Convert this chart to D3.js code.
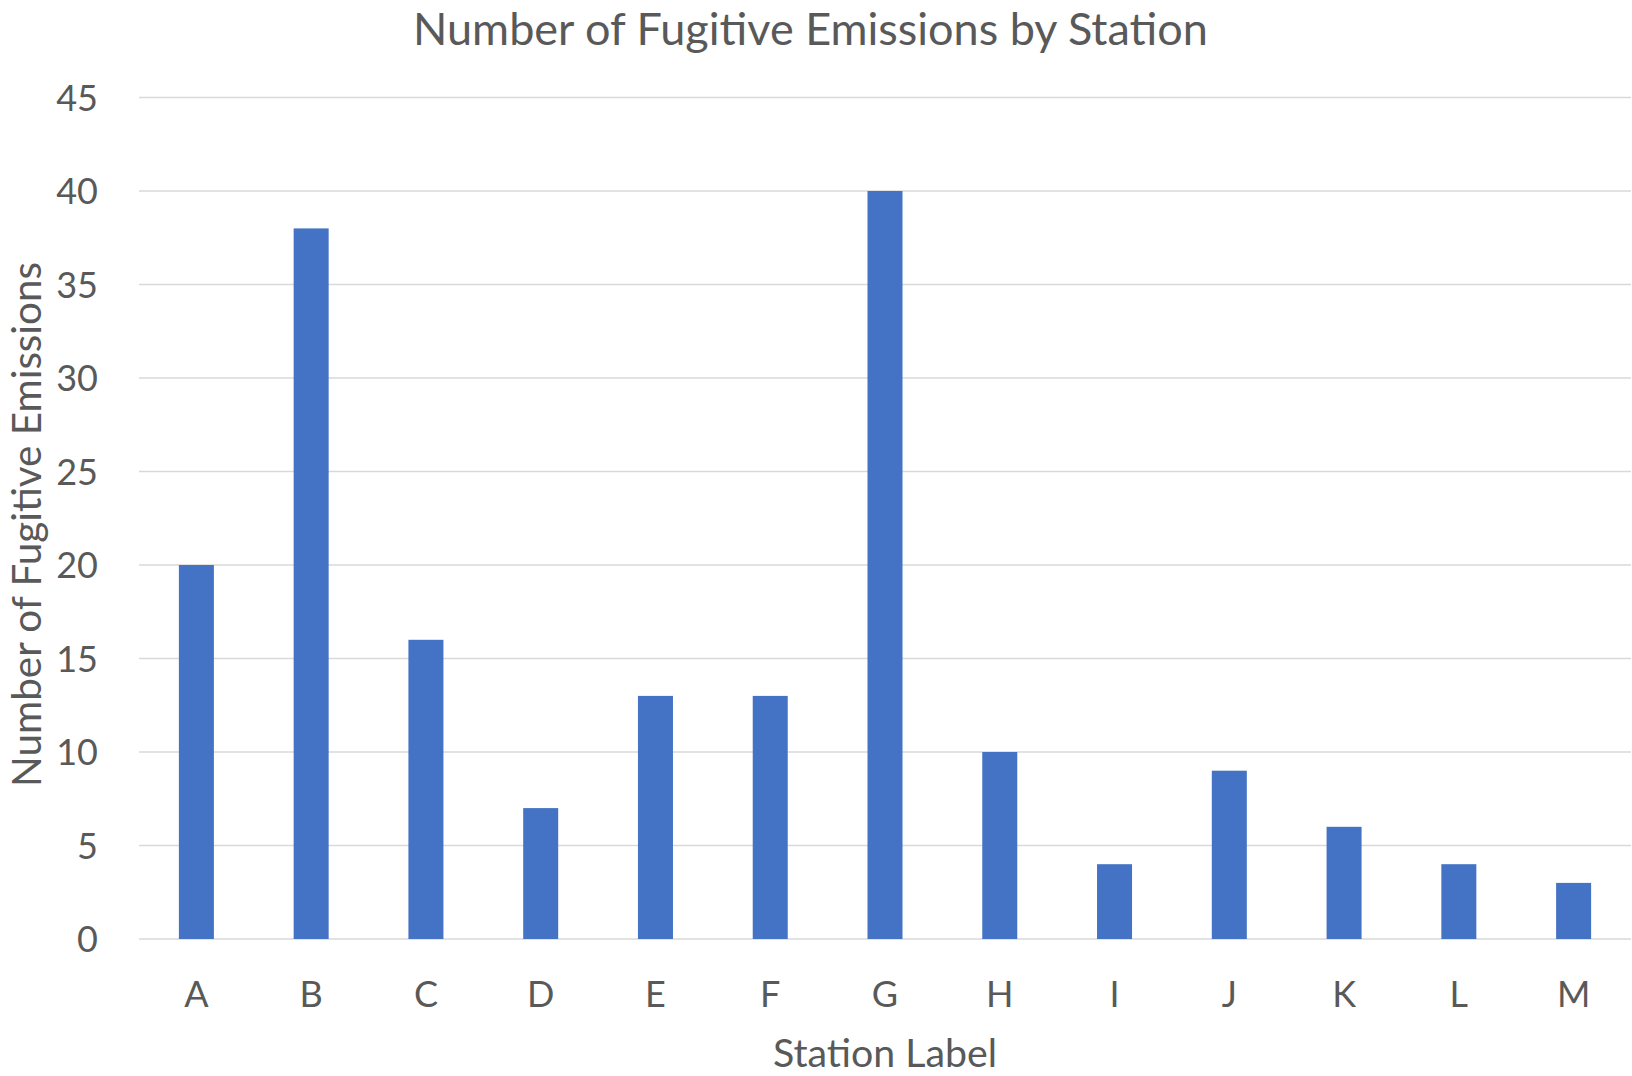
<!DOCTYPE html>
<html>
<head>
<meta charset="utf-8">
<script src="https://cdn.jsdelivr.net/npm/d3@7"></script>
<style>
  html, body { margin: 0; padding: 0; background: #fff; }
  svg { display: block; }
  text { font-family: Lato, "Open Sans", sans-serif; fill: #595959; }
</style>
</head>
<body>
<svg id="chart" width="1632" height="1076"></svg>
<script>
const categories = ["A","B","C","D","E","F","G","H","I","J","K","L","M"];
const values = [20, 38, 16, 7, 13, 13, 40, 10, 4, 9, 6, 4, 3];
const yTicks = [0, 5, 10, 15, 20, 25, 30, 35, 40, 45];
const titleText = "Number of Fugitive Emissions by Station";
const xTitleText = "Station Label";
const yTitleText = "Number of Fugitive Emissions";

const W = 1632, H = 1076;
const plot = { left: 139, right: 1631, top: 97.5, bottom: 939 };

const svg = d3.select("#chart");

const x = d3.scaleBand()
  .domain(categories)
  .range([plot.left, plot.right])
  .paddingInner(0.695)
  .paddingOuter(0.3475);

const y = d3.scaleLinear()
  .domain([0, 45])
  .range([plot.bottom, plot.top]);

// gridlines
svg.append("g")
  .selectAll("line")
  .data(yTicks)
  .join("line")
  .attr("x1", plot.left)
  .attr("x2", plot.right)
  .attr("y1", d => y(d))
  .attr("y2", d => y(d))
  .attr("stroke", "#D9D9D9")
  .attr("stroke-width", 1.5);

// bars
svg.append("g")
  .selectAll("rect")
  .data(categories.map((c, i) => ({ c, v: values[i] })))
  .join("rect")
  .attr("x", d => x(d.c))
  .attr("width", x.bandwidth())
  .attr("y", d => y(d.v))
  .attr("height", d => y(0) - y(d.v))
  .attr("fill", "#4472C4");

// y tick labels
svg.append("g")
  .selectAll("text")
  .data(yTicks)
  .join("text")
  .attr("x", 98)
  .attr("y", d => y(d) + 13)
  .attr("text-anchor", "end")
  .attr("font-size", 36)
  .text(d => d);

// x tick labels
svg.append("g")
  .selectAll("text")
  .data(categories)
  .join("text")
  .attr("x", d => x(d) + x.bandwidth() / 2)
  .attr("y", 1007)
  .attr("text-anchor", "middle")
  .attr("font-size", 36)
  .text(d => d);

function fit(sel, target, base) {
  sel.attr("font-size", base);
  const len = sel.node().getComputedTextLength();
  sel.attr("font-size", base * target / len);
}

// title
const title = svg.append("text")
  .attr("x", 810.5)
  .attr("y", 37)
  .attr("text-anchor", "middle")
  .text(titleText);
fit(title, 795, 44);
{
  const bb = title.node().getBBox();
  if (bb.y < 1) title.attr("y", 37 + (1 - bb.y));
}

// x axis title
const xt = svg.append("text")
  .attr("x", (plot.left + plot.right) / 2)
  .attr("y", 1067)
  .attr("text-anchor", "middle")
  .text(xTitleText);
fit(xt, 224, 38);
{
  const bb = xt.node().getBBox();
  if (bb.y + bb.height > H - 1) xt.attr("y", 1067 - (bb.y + bb.height - (H - 1)));
}

// y axis title
let yx = 33;
const yt = svg.append("text")
  .attr("transform", `translate(${yx},524.5) rotate(-90)`)
  .attr("text-anchor", "middle")
  .text(yTitleText);
fit(yt, 525, 38);
{
  // in rotated frame, bbox.y is the offset toward the left edge
  const bb = yt.node().getBBox();
  const leftEdge = yx + bb.y;
  if (leftEdge < 1) {
    yx = yx + (1 - leftEdge);
    yt.attr("transform", `translate(${yx},524.5) rotate(-90)`);
  }
}
</script>
</body>
</html>
